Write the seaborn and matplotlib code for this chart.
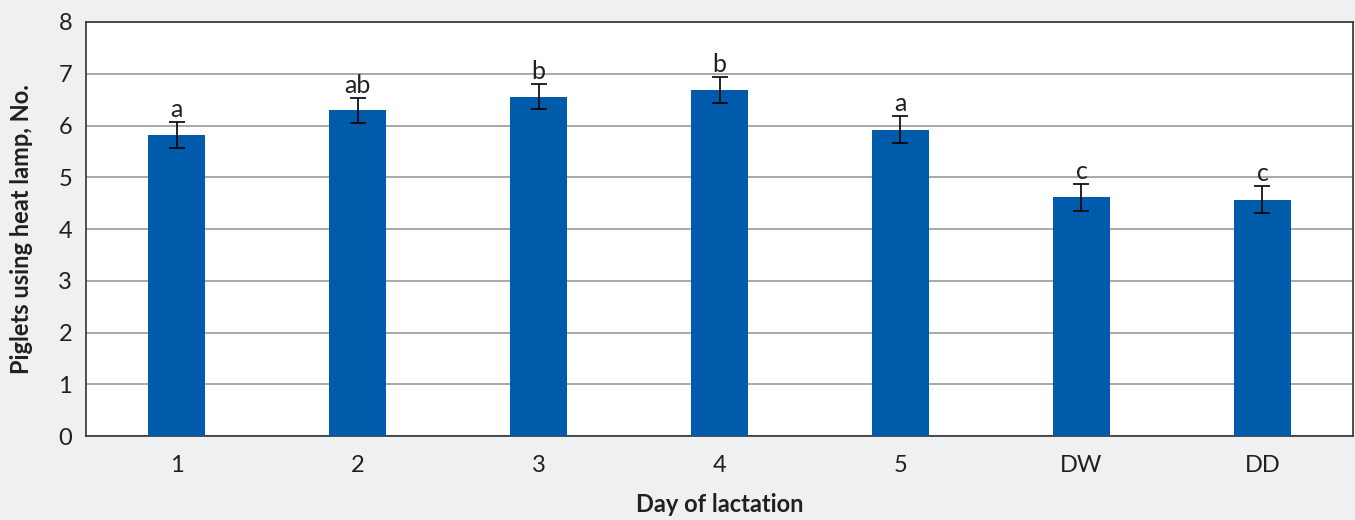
import matplotlib
matplotlib.use("Agg")
import matplotlib.pyplot as plt
import seaborn as sns
import pandas as pd

days = ["1", "2", "3", "4", "5", "DW", "DD"]
piglets = [5.81, 6.29, 6.56, 6.68, 5.92, 4.61, 4.57]
sem = [0.25, 0.25, 0.25, 0.25, 0.26, 0.26, 0.26]
letters = ["a", "ab", "b", "b", "a", "c", "c"]
y_ticks = [0, 1, 2, 3, 4, 5, 6, 7, 8]

sns.set_theme(style="white")
plt.rcParams['font.family'] = ['Lato', 'DejaVu Sans']

df = pd.DataFrame({"day": days, "val": piglets})

fig = plt.figure(figsize=(13.55, 5.2), dpi=100, facecolor="#eff0f2")
ax = fig.add_axes([0.0635, 0.1615, 0.935, 0.7962])
ax.set_facecolor("white")

sns.barplot(data=df, x="day", y="val", color="#005baa", saturation=1,
            width=0.315, errorbar=None, ax=ax, zorder=3, linewidth=0)
ax.errorbar(range(len(days)), piglets, yerr=sem, fmt="none", ecolor="black",
            elinewidth=1.2, capsize=6, capthick=1.2, zorder=4)
for i, (v, s, l) in enumerate(zip(piglets, sem, letters)):
    ax.text(i, v + s + 0.02, l, ha="center", va="bottom", fontsize=18, color="#231f20")

ax.set_ylim(0, 8)
ax.set_xlim(-0.5, len(days) - 0.5)
ax.set_yticks(y_ticks)
ax.yaxis.grid(True, color="#999999", linewidth=1.2, zorder=0)
ax.set_axisbelow(True)
ax.tick_params(axis="both", length=0, labelsize=17, colors="#231f20")
ax.tick_params(axis="x", pad=14)
ax.tick_params(axis="y", pad=10)
ax.set_xlabel("Day of lactation", fontsize=17, fontweight="bold", color="#231f20", labelpad=12)
ax.set_ylabel("Piglets using heat lamp, No.", fontsize=17, fontweight="bold", color="#231f20", labelpad=18)
for sp in ax.spines.values():
    sp.set_color("#333333")
    sp.set_linewidth(1.2)

fig.savefig("out.png", dpi=100, facecolor=fig.get_facecolor())
